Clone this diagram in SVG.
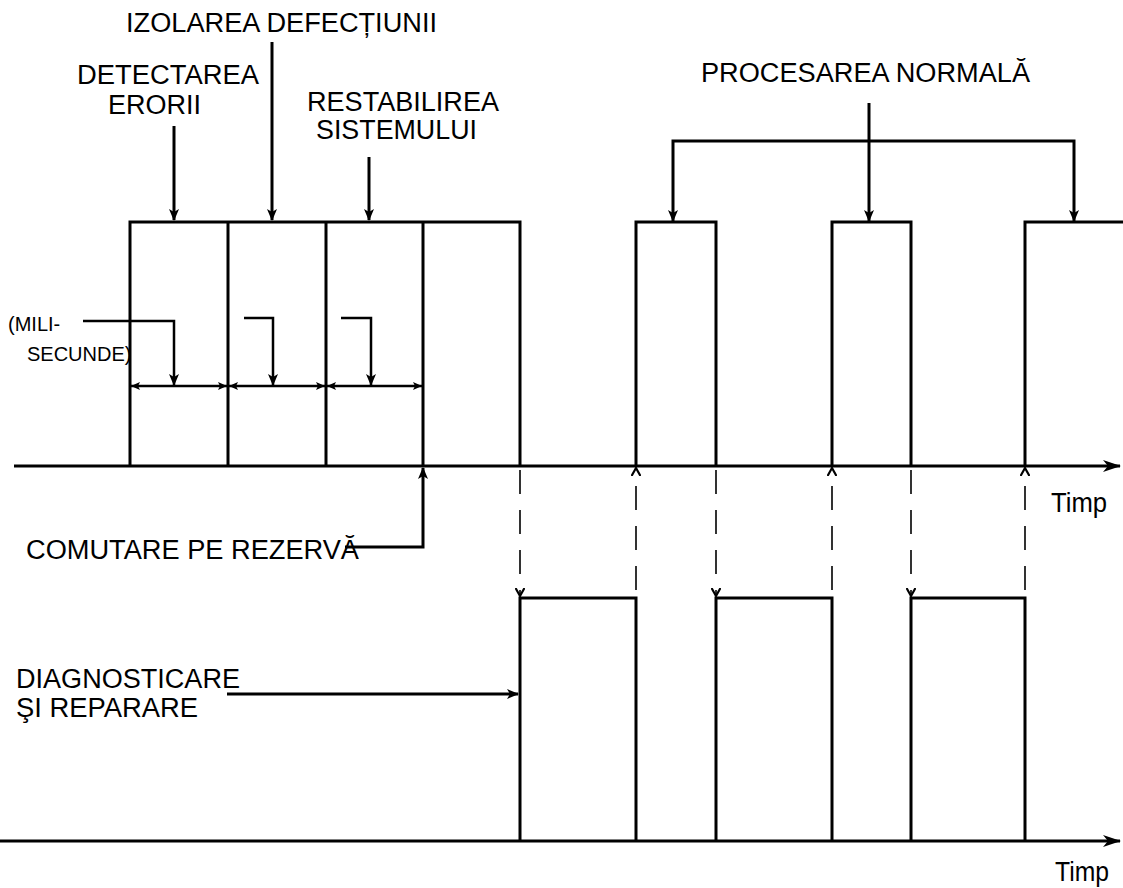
<svg xmlns="http://www.w3.org/2000/svg" width="1123" height="888" viewBox="0 0 1123 888">
<style>
text{font-family:"Liberation Sans",Arial,Helvetica,sans-serif;fill:#000}
.lbl{font-size:27px}
.sm{font-size:20px}
.ln{fill:none;stroke:#000;stroke-width:3;stroke-linejoin:miter;stroke-linecap:butt}
.thin{fill:none;stroke:#000;stroke-width:2.5}
.dash{fill:none;stroke:#000;stroke-width:1.6;stroke-dasharray:24 16}
</style>
<defs>
<marker id="ah" viewBox="0 0 12 10" refX="11" refY="5" markerWidth="12" markerHeight="10" markerUnits="userSpaceOnUse" orient="auto-start-reverse"><path d="M0,0 L12,5 L0,10 L3,5 z" fill="#000"/></marker>
<marker id="axh" viewBox="0 0 18 12" refX="17" refY="6" markerWidth="18" markerHeight="12" markerUnits="userSpaceOnUse" orient="auto"><path d="M0,0 L18,6 L0,12 L5,6 z" fill="#000"/></marker>
<marker id="dh" viewBox="0 0 9 8" refX="9" refY="4" markerWidth="9" markerHeight="8" markerUnits="userSpaceOnUse" orient="auto-start-reverse"><path d="M0,0 L9,4 L0,8 L2,4 z" fill="#000"/></marker>
<marker id="ch" viewBox="0 0 9 10" refX="8" refY="5" markerWidth="9" markerHeight="10" markerUnits="userSpaceOnUse" orient="auto"><path d="M0,0.5 L8,5 L0,9.5" fill="none" stroke="#000" stroke-width="2.2"/></marker>
</defs>

<g id="axes">
<path class="ln" d="M14,466 H1120" stroke-width="3.5" marker-end="url(#axh)"/>
<path class="ln" d="M0,841 H1120" stroke-width="3.5" marker-end="url(#axh)"/>
</g>

<g id="wave-top">
<path class="ln" d="M130,466 V222 H520 V466"/>
<path class="ln" d="M228,222 V466 M326,222 V466 M423,222 V466"/>
<path class="ln" d="M636,466 V222 H716 V466"/>
<path class="ln" d="M832,466 V222 H911 V466"/>
<path class="ln" d="M1025,466 V222 H1123"/>
</g>

<g id="wave-bottom">
<path class="ln" d="M520,841 V598 H636 V841"/>
<path class="ln" d="M716,841 V598 H832 V841"/>
<path class="ln" d="M911,841 V598 H1025 V841"/>
</g>

<g id="label-izolarea">
<text class="lbl" x="126" y="32" textLength="311" lengthAdjust="spacingAndGlyphs">IZOLAREA DEFECȚIUNII</text>
</g>
<g id="label-detectarea">
<text class="lbl" x="77" y="84" textLength="182" lengthAdjust="spacingAndGlyphs">DETECTAREA</text>
<text class="lbl" x="108" y="114" textLength="93" lengthAdjust="spacingAndGlyphs">ERORII</text>
</g>
<g id="label-restabilirea">
<text class="lbl" x="307" y="111" textLength="192" lengthAdjust="spacingAndGlyphs">RESTABILIREA</text>
<text class="lbl" x="316" y="139" textLength="161" lengthAdjust="spacingAndGlyphs">SISTEMULUI</text>
</g>
<g id="label-procesarea">
<text class="lbl" x="701" y="82" textLength="329" lengthAdjust="spacingAndGlyphs">PROCESAREA NORMALĂ</text>
</g>
<g id="label-milisecunde">
<text class="sm" x="8" y="331">(MILI-</text>
<text class="sm" x="27" y="361">SECUNDE)</text>
</g>
<g id="label-comutare">
<text class="lbl" x="26" y="559" textLength="333" lengthAdjust="spacingAndGlyphs">COMUTARE PE REZERVĂ</text>
</g>
<g id="label-diagnosticare">
<text class="lbl" x="16" y="688" textLength="224" lengthAdjust="spacingAndGlyphs">DIAGNOSTICARE</text>
<text class="lbl" x="16" y="717" textLength="182" lengthAdjust="spacingAndGlyphs">ŞI REPARARE</text>
</g>
<g id="label-timp-top">
<text class="lbl" x="1051" y="512" font-size="26" textLength="56" lengthAdjust="spacingAndGlyphs">Timp</text>
</g>
<g id="label-timp-bottom">
<text class="lbl" x="1055" y="881" font-size="26" textLength="54" lengthAdjust="spacingAndGlyphs">Timp</text>
</g>

<g id="connectors">
<path class="ln" d="M174,126 V220" marker-end="url(#ah)"/>
<path class="ln" d="M272,42 V220" marker-end="url(#ah)"/>
<path class="ln" d="M369,157 V220" marker-end="url(#ah)"/>
<path class="ln" d="M869,103 V221" marker-end="url(#ah)"/>
<path class="ln" d="M673,221 V141 H1074 V221" marker-start="url(#ah)" marker-end="url(#ah)"/>

<path class="thin" d="M83,321 H174 V385" marker-end="url(#ah)"/>
<path class="thin" d="M244,318 H273 V385" marker-end="url(#ah)"/>
<path class="thin" d="M341,318 H371 V385" marker-end="url(#ah)"/>
<path class="thin" d="M131,386 H227" marker-start="url(#dh)" marker-end="url(#dh)"/>
<path class="thin" d="M229,386 H325" marker-start="url(#dh)" marker-end="url(#dh)"/>
<path class="thin" d="M327,386 H422" marker-start="url(#dh)" marker-end="url(#dh)"/>

<path class="ln" d="M345,547 H423 V468" marker-end="url(#ah)"/>
<path class="ln" d="M227,694 H518" marker-end="url(#ah)"/>

<path class="dash" d="M520,470 V596" marker-end="url(#ch)"/>
<path class="dash" d="M716,470 V596" marker-end="url(#ch)"/>
<path class="dash" d="M911,470 V596" marker-end="url(#ch)"/>
<path class="dash" d="M636,590 V468" marker-end="url(#ch)"/>
<path class="dash" d="M832,590 V468" marker-end="url(#ch)"/>
<path class="dash" d="M1025,590 V468" marker-end="url(#ch)"/>
</g>
</svg>
